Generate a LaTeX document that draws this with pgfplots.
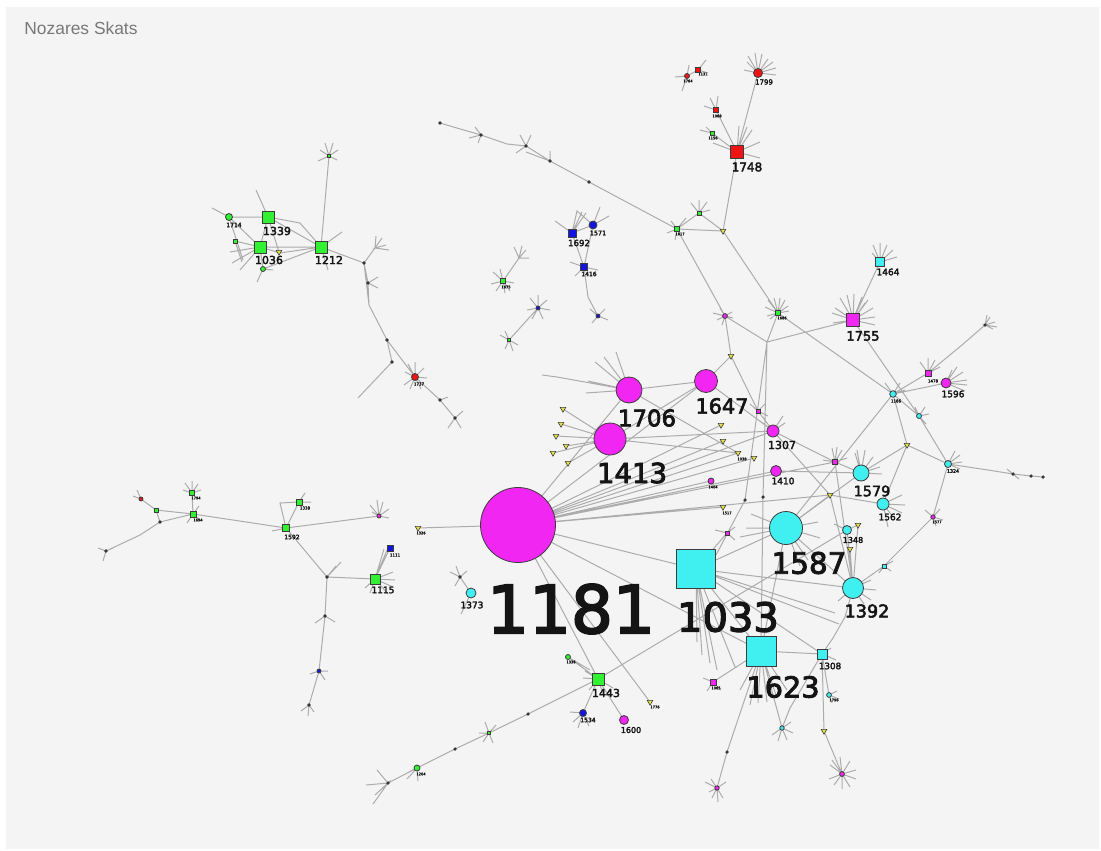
\documentclass[border=0pt]{standalone}
\usepackage{pgfplots}
\pgfplotsset{compat=1.18}
\usepackage{fontspec}
\setmainfont{DejaVu Sans}
\newfontfamily\lab{DejaVu Sans}[FakeBold=3]
\newfontfamily\titlefont{Liberation Sans}
\definecolor{mag}{RGB}{242,38,242}
\definecolor{cyn}{RGB}{64,240,240}
\definecolor{grn}{RGB}{50,240,50}
\definecolor{rd}{RGB}{238,20,20}
\definecolor{blu}{RGB}{20,20,225}
\definecolor{ylw}{RGB}{228,228,70}
\definecolor{edge}{RGB}{172,172,172}
\definecolor{nodeline}{RGB}{60,60,60}
\definecolor{panel}{RGB}{244,244,244}
\definecolor{titlegray}{RGB}{120,120,120}
\pgfdeclareplotmark{dtri*}{%
  \pgfpathmoveto{\pgfqpoint{0pt}{-\pgfplotmarksize}}%
  \pgfpathlineto{\pgfqpointpolar{30}{\pgfplotmarksize}}%
  \pgfpathlineto{\pgfqpointpolar{150}{\pgfplotmarksize}}%
  \pgfpathclose\pgfusepathqfillstroke}
\pgfplotsset{
  netnodes/.style n args={2}{scatter, only marks, mark=#1, point meta=\thisrow{s},
    scatter/use mapped color={draw=nodeline, fill=#2},
    visualization depends on={\thisrow{s}\as\ms},
    scatter/@pre marker code/.append style={/tikz/mark size=\ms, /tikz/line width=0.3pt}},
}
\tikzset{lbl/.style={inner sep=0pt, text={rgb,255:red,20;green,20;blue,20}}}
\begin{document}
\begin{tikzpicture}
\begin{axis}[scale only axis, width=550.5pt, height=425pt,
  xmin=0, xmax=1101, ymin=0, ymax=850, y dir=reverse,
  hide axis, clip=false]
\fill[white] (axis cs:0,0) rectangle (axis cs:1101,850);
\fill[panel] (axis cs:6,7) rectangle (axis cs:1099,849);
\node[anchor=west, inner sep=0pt, text=titlegray, font=\titlefont\fontsize{8.7}{10}\selectfont] at (axis cs:24,28) {Nozares Skats};

% ---------------- edges ----------------
\addplot[color=edge, line width=0.5pt, unbounded coords=jump, mark=none] table {
x y
518 525
629 390
518 525
706 381
518 525
721 425
518 525
723 441
518 525
738 453
518 525
754 458
518 525
773 431
518 525
835 462
518 525
723 507
518 525
418 528
518 525
696 569
518 525
761 651
518 525
598 679
518 525
650 702
518 525
711 481
518 525
776 471
518 525
830 495
nan nan
610 439
563 409
610 439
561 424
610 439
556 436
610 439
566 446
610 439
553 453
610 439
568 463
610 439
706 381
610 439
738 453
610 439
773 431
nan nan
629 390
706 381
nan nan
629 390
557 377
542 375
nan nan
629 390
588 381
629 390
586 393
629 390
595 362
629 390
604 357
629 390
616 352
629 390
738 453
nan nan
706 381
731 356
725 316
677 229
nan nan
706 381
773 431
nan nan
725 316
713 313
725 316
717 320
725 316
732 312
725 316
733 318
725 316
722 325
725 316
720 308
725 316
767 342
nan nan
731 356
758 411
773 431
nan nan
758 411
750 404
758 411
765 404
758 411
768 416
nan nan
723 231
778 313
893 394
nan nan
778 313
767 342
853 320
nan nan
767 342
763 497
761 651
nan nan
767 342
745 500
716 555
nan nan
778 313
765 307
778 313
768 300
778 313
774 298
778 313
780 298
778 313
785 300
778 313
788 306
778 313
789 311
778 313
767 316
778 313
770 319
nan nan
853 320
880 262
nan nan
853 320
835 308
853 320
840 298
853 320
847 295
853 320
854 294
853 320
862 297
853 320
868 300
853 320
873 308
853 320
875 317
853 320
875 325
853 320
832 313
853 320
833 323
853 320
865 303
nan nan
853 320
919 416
948 464
nan nan
880 262
873 245
880 262
880 243
880 262
887 245
880 262
893 250
880 262
897 257
880 262
872 253
nan nan
893 394
928 373
962 345
985 325
nan nan
985 325
987 315
985 325
990 317
985 325
995 322
985 325
997 327
985 325
993 329
nan nan
928 373
920 362
928 373
928 358
928 373
935 360
928 373
940 367
nan nan
893 394
946 383
nan nan
946 383
952 370
946 383
957 367
946 383
963 372
946 383
967 380
946 383
967 385
946 383
965 391
nan nan
893 394
786 528
nan nan
893 394
907 445
948 464
nan nan
907 445
861 473
nan nan
907 445
883 504
nan nan
893 394
919 416
nan nan
893 394
885 383
893 394
900 383
893 394
905 390
nan nan
919 416
915 407
919 416
925 407
919 416
929 414
919 416
926 424
nan nan
948 464
988 470
1013 474
1031 476
1043 477
nan nan
1013 474
1007 469
1013 474
1019 479
nan nan
948 464
955 451
948 464
960 455
948 464
962 462
948 464
960 469
nan nan
948 464
933 517
884 566
853 588
nan nan
933 517
925 510
933 517
940 509
933 517
943 520
933 517
936 526
nan nan
884 566
893 561
884 566
891 571
884 566
879 573
nan nan
773 431
835 462
861 473
nan nan
773 431
783 416
773 431
760 421
773 431
785 423
nan nan
773 431
830 495
nan nan
776 471
861 473
nan nan
835 462
832 448
835 462
837 447
835 462
842 450
835 462
847 458
835 462
823 460
nan nan
786 528
861 473
nan nan
786 528
761 651
nan nan
786 528
696 569
nan nan
786 528
853 588
nan nan
786 528
751 514
786 528
746 528
786 528
740 537
786 528
818 522
786 528
820 538
786 528
808 560
786 528
800 566
nan nan
786 528
830 495
883 504
nan nan
861 473
855 453
861 473
857 450
861 473
865 450
861 473
873 457
861 473
880 467
861 473
882 474
nan nan
883 504
902 495
883 504
905 505
883 504
902 513
883 504
893 517
883 504
888 527
nan nan
847 530
853 588
nan nan
858 525
853 588
nan nan
850 549
853 588
nan nan
830 495
853 588
nan nan
835 462
853 588
nan nan
847 530
834 524
847 530
858 525
nan nan
853 588
871 580
853 588
876 590
853 588
871 600
853 588
864 604
853 588
838 601
nan nan
853 588
845 617
833 638
822 654
nan nan
696 569
761 651
nan nan
696 569
853 588
nan nan
696 569
835 613
nan nan
696 569
839 624
nan nan
696 569
822 654
nan nan
696 569
697 642
696 569
702 655
696 569
710 663
696 569
717 670
696 569
735 667
nan nan
696 569
727 533
nan nan
727 533
715 530
727 533
735 527
727 533
735 540
nan nan
598 679
847 530
nan nan
761 651
822 654
nan nan
761 651
740 690
761 651
750 705
761 651
758 703
761 651
767 702
761 651
777 698
761 651
787 690
nan nan
761 651
713 682
nan nan
713 682
703 678
713 682
707 691
713 682
721 690
nan nan
761 651
727 752
717 788
nan nan
761 651
782 728
nan nan
782 728
772 735
782 728
778 741
782 728
787 740
782 728
793 733
782 728
791 722
nan nan
822 654
829 695
nan nan
822 654
824 731
842 774
nan nan
822 654
790 708
782 728
nan nan
822 654
831 648
822 654
836 660
nan nan
829 695
837 691
829 695
839 699
829 695
832 703
nan nan
842 774
830 765
842 774
832 760
842 774
840 757
842 774
850 761
842 774
856 770
842 774
856 779
842 774
850 787
842 774
842 789
842 774
834 785
842 774
829 779
nan nan
717 788
705 782
717 788
711 779
717 788
726 782
717 788
723 798
717 788
712 798
717 788
718 802
717 788
709 792
nan nan
598 679
568 657
nan nan
568 657
590 670
nan nan
598 679
583 713
nan nan
598 679
624 720
nan nan
598 679
528 714
489 733
455 749
417 768
388 783
nan nan
598 679
583 678
598 679
589 690
598 679
603 694
598 679
613 688
598 679
585 671
nan nan
583 713
570 712
583 713
573 722
583 713
578 728
583 713
589 726
nan nan
489 733
485 722
489 733
479 733
489 733
493 743
489 733
483 742
489 733
496 725
nan nan
417 768
409 772
417 768
407 779
417 768
418 781
nan nan
388 783
377 770
388 783
366 785
388 783
375 795
388 783
373 804
nan nan
440 123
450 126
481 135
507 144
526 146
550 161
589 182
677 229
nan nan
481 135
475 127
481 135
469 138
481 135
478 143
nan nan
526 146
520 135
526 146
531 135
526 146
516 153
nan nan
526 152
550 161
550 151
nan nan
677 229
699 213
723 231
677 229
nan nan
677 229
671 221
677 229
686 218
677 229
667 233
677 229
675 240
nan nan
699 213
699 200
699 213
707 202
699 213
691 203
699 213
710 210
nan nan
723 231
737 152
758 73
nan nan
737 152
739 126
737 152
752 130
737 152
760 142
737 152
760 158
737 152
713 143
737 152
716 110
737 152
712 133
737 152
747 127
nan nan
716 110
710 98
716 110
718 96
716 110
704 106
nan nan
712 133
700 130
712 133
706 127
nan nan
758 73
747 62
758 73
755 53
758 73
762 54
758 73
768 59
758 73
773 62
758 73
776 68
758 73
776 75
758 73
744 70
758 73
748 56
nan nan
687 76
698 70
nan nan
687 76
675 77
687 76
682 91
687 76
689 65
nan nan
698 70
706 60
698 70
708 73
nan nan
572 233
593 225
584 267
572 233
nan nan
572 233
555 221
572 233
577 211
593 225
nan nan
572 233
582 212
572 233
586 213
nan nan
593 225
600 207
593 225
609 216
nan nan
584 267
570 262
584 267
598 270
584 267
575 276
584 267
588 297
598 316
nan nan
598 316
590 309
598 316
605 309
598 316
608 320
598 316
592 323
nan nan
503 281
493 272
503 281
500 269
503 281
510 271
503 281
514 283
503 281
510 291
503 281
496 291
503 281
491 284
503 281
505 293
nan nan
503 281
519 258
nan nan
519 258
514 247
519 258
522 246
519 258
529 258
519 258
526 250
nan nan
538 308
530 298
538 308
538 295
538 308
547 300
538 308
550 310
538 308
543 319
538 308
532 319
538 308
527 310
nan nan
538 308
509 340
nan nan
509 340
500 335
509 340
505 331
509 340
518 345
509 340
505 349
509 340
513 351
nan nan
229 217
268 217
260 247
229 217
nan nan
229 217
212 208
nan nan
229 217
243 260
nan nan
268 217
321 247
nan nan
268 217
256 190
nan nan
268 217
300 223
321 247
nan nan
260 247
321 247
nan nan
260 247
235 241
242 262
nan nan
260 247
263 269
321 247
nan nan
260 247
280 253
321 247
nan nan
268 217
279 252
nan nan
260 247
230 252
260 247
232 263
260 247
240 270
nan nan
263 269
257 282
263 269
273 270
nan nan
321 247
342 232
nan nan
321 247
328 270
nan nan
321 247
329 156
nan nan
329 156
320 150
329 156
325 143
329 156
333 143
329 156
338 150
329 156
337 160
329 156
318 161
nan nan
321 247
364 263
375 248
nan nan
375 248
382 238
375 248
386 245
375 248
389 250
375 248
376 236
nan nan
364 263
368 283
369 305
387 340
415 377
nan nan
364 263
369 305
nan nan
368 283
378 277
368 283
378 288
nan nan
387 340
392 362
358 398
nan nan
415 377
405 372
415 377
408 364
415 377
415 362
415 377
424 368
415 377
427 378
415 377
421 389
415 377
410 389
415 377
404 385
nan nan
415 377
440 400
455 418
nan nan
455 418
463 411
455 418
461 428
455 418
448 428
nan nan
440 400
448 397
nan nan
286 528
280 503
299 502
nan nan
286 528
299 502
nan nan
299 502
305 493
299 502
311 502
nan nan
286 528
379 516
nan nan
379 516
370 505
379 516
377 500
379 516
383 502
379 516
389 509
379 516
389 518
379 516
372 512
nan nan
286 528
193 514
192 493
nan nan
192 493
185 483
192 493
192 481
192 493
198 484
192 493
201 490
192 493
183 490
nan nan
193 514
156 510
141 499
nan nan
141 499
133 496
141 499
137 490
nan nan
193 514
160 522
140 535
106 551
nan nan
156 510
160 522
nan nan
106 551
98 548
106 551
103 561
106 551
113 548
nan nan
193 514
199 506
193 514
201 521
193 514
187 523
nan nan
286 528
327 577
375 579
nan nan
375 579
390 548
nan nan
375 579
387 550
nan nan
375 579
384 549
nan nan
375 579
393 572
375 579
395 580
375 579
393 587
375 579
388 594
375 579
365 588
375 579
370 593
nan nan
327 577
336 566
327 577
341 562
nan nan
327 577
325 616
319 671
309 705
nan nan
325 616
315 623
325 616
335 622
nan nan
319 671
310 674
319 671
328 671
319 671
325 680
nan nan
309 705
301 711
309 705
308 716
309 705
314 712
nan nan
286 528
272 531
nan nan
471 593
460 577
nan nan
460 577
450 572
460 577
456 566
460 577
467 571
460 577
455 586
nan nan
471 593
461 614
nan nan
};

% ---------------- nodes ----------------
% magenta circles
\addplot[netnodes={*}{mag}] table {
x y s
518 525 18.75
610 439 8
629 390 6.5
706 381 5.75
773 431 3
776 471 2.75
946 383 2.5
624 720 2.25
711 481 1.5
725 316 1.2
933 517 1.1
842 774 1.2
717 788 1.1
379 516 1.0
};
% magenta squares
\addplot[netnodes={square*}{mag}] table {
x y s
853 320 3.25
928 373 1.5
713 682 1.5
758 411 1.0
835 462 1.2
727 533 1.0
};
% cyan circles
\addplot[netnodes={*}{cyn}] table {
x y s
786 528 8.25
861 473 4
883 504 3
847 530 2.25
853 588 5.25
893 394 1.65
919 416 1.25
948 464 1.75
471 593 2.5
829 695 1.2
782 728 1.1
};
% cyan squares
\addplot[netnodes={square*}{cyn}] table {
x y s
696 569 9.75
761 651 7.5
822 654 2.5
880 262 2.35
884 566 1.0
};
% green squares
\addplot[netnodes={square*}{grn}] table {
x y s
268 217 3
260 247 3
321 247 3
598 679 3
375 579 2.5
286 528 1.75
299 502 1.5
193 514 1.5
192 493 1.3
677 229 1.3
699 213 1.0
778 313 1.2
712 133 1.0
235 241 1.0
329 156 0.9
156 510 1.0
503 281 1.1
509 340 0.9
489 733 0.8
};
% green circles
\addplot[netnodes={*}{grn}] table {
x y s
229 217 1.75
263 269 1.25
568 657 1.25
417 768 1.5
};
% red squares
\addplot[netnodes={square*}{rd}] table {
x y s
737 152 3.25
716 110 1.25
698 70 1.1
};
% red circles
\addplot[netnodes={*}{rd}] table {
x y s
758 73 2.25
687 76 1.25
415 377 1.75
141 499 1.0
};
% blue squares
\addplot[netnodes={square*}{blu}] table {
x y s
572 233 2
584 267 1.65
390 548 1.5
};
% blue circles
\addplot[netnodes={*}{blu}] table {
x y s
593 225 2
583 713 1.75
538 308 1.0
598 316 1.0
319 671 1.0
};
% yellow triangles
\addplot[only marks, mark=dtri*, mark size=1.6pt, mark options={fill=ylw, draw=nodeline, line width=0.3pt}] table {
x y
721 425
723 441
738 453
754 458
731 356
907 445
830 495
858 525
850 549
723 507
418 528
650 702
824 731
723 231
563 409
561 424
556 436
566 446
553 453
568 463
279 252
};
% small black junction dots
\addplot[only marks, mark=*, mark size=0.6pt, mark options={fill=black!80, draw=black!80}] table {
x y
481 135
526 146
550 161
364 263
368 283
387 340
392 362
327 577
325 616
309 705
985 325
1013 474
1031 476
1043 477
388 783
455 418
460 577
440 400
106 551
160 522
440 123
589 182
745 500
763 497
727 752
528 714
455 749
};

% ---------------- labels ----------------
\node[lbl, font=\lab\fontsize{33}{33}\selectfont] at (axis cs:571,609) {1181};
\node[lbl, font=\lab\fontsize{20}{20}\selectfont] at (axis cs:728,617) {1033};
\node[lbl, font=\lab\fontsize{14.4}{14.4}\selectfont] at (axis cs:783,687) {1623};
\node[lbl, font=\lab\fontsize{14.7}{14.7}\selectfont] at (axis cs:809,563) {1587};
\node[lbl, font=\lab\fontsize{13.8}{13.8}\selectfont] at (axis cs:632,473) {1413};
\node[lbl, font=\lab\fontsize{11.4}{11.4}\selectfont] at (axis cs:647,418) {1706};
\node[lbl, font=\lab\fontsize{10.4}{10.4}\selectfont] at (axis cs:722,406) {1647};
\node[lbl, font=\lab\fontsize{8.8}{8.8}\selectfont] at (axis cs:867,611) {1392};
\node[lbl, font=\lab\fontsize{7.2}{7.2}\selectfont] at (axis cs:872,491) {1579};
\node[lbl, font=\lab\fontsize{6.5}{6.5}\selectfont] at (axis cs:863,336) {1755};
\node[lbl, font=\lab\fontsize{6}{6}\selectfont] at (axis cs:747,167) {1748};
\node[lbl, font=\lab\fontsize{5.5}{5.5}\selectfont] at (axis cs:782,445) {1307};
\node[lbl, font=\lab\fontsize{5.5}{5.5}\selectfont] at (axis cs:277,231) {1339};
\node[lbl, font=\lab\fontsize{5.5}{5.5}\selectfont] at (axis cs:269,260) {1036};
\node[lbl, font=\lab\fontsize{5.5}{5.5}\selectfont] at (axis cs:329,260) {1212};
\node[lbl, font=\lab\fontsize{5.5}{5.5}\selectfont] at (axis cs:606,693) {1443};
\node[lbl, font=\lab\fontsize{4.5}{4.5}\selectfont] at (axis cs:890,517) {1562};
\node[lbl, font=\lab\fontsize{4.5}{4.5}\selectfont] at (axis cs:783,481) {1410};
\node[lbl, font=\lab\fontsize{4.5}{4.5}\selectfont] at (axis cs:888,272) {1464};
\node[lbl, font=\lab\fontsize{4.5}{4.5}\selectfont] at (axis cs:953,394) {1596};
\node[lbl, font=\lab\fontsize{4.4}{4.4}\selectfont] at (axis cs:830,666) {1308};
\node[lbl, font=\lab\fontsize{4.5}{4.5}\selectfont] at (axis cs:472,605) {1373};
\node[lbl, font=\lab\fontsize{4.5}{4.5}\selectfont] at (axis cs:383,590) {1115};
\node[lbl, font=\lab\fontsize{4.3}{4.3}\selectfont] at (axis cs:579,243) {1692};
\node[lbl, font=\lab\fontsize{4}{4}\selectfont] at (axis cs:853,540) {1348};
\node[lbl, font=\lab\fontsize{4}{4}\selectfont] at (axis cs:631,730) {1600};
\node[lbl, font=\lab\fontsize{3.5}{3.5}\selectfont] at (axis cs:764,82) {1799};
\node[lbl, font=\lab\fontsize{3.2}{3.2}\selectfont] at (axis cs:598,233) {1571};
\node[lbl, font=\lab\fontsize{3}{3}\selectfont] at (axis cs:589,274) {1416};
\node[lbl, font=\lab\fontsize{3}{3}\selectfont] at (axis cs:588,720) {1534};
\node[lbl, font=\lab\fontsize{3}{3}\selectfont] at (axis cs:292,537) {1592};
\node[lbl, font=\lab\fontsize{3}{3}\selectfont] at (axis cs:234,225) {1714};
\node[lbl, font=\lab\fontsize{2}{2}\selectfont] at (axis cs:933,381) {1478};
\node[lbl, font=\lab\fontsize{2}{2}\selectfont] at (axis cs:896,401) {1186};
\node[lbl, font=\lab\fontsize{2.4}{2.4}\selectfont] at (axis cs:953,471) {1324};
\node[lbl, font=\lab\fontsize{1.8}{1.8}\selectfont] at (axis cs:937,522) {1577};
\node[lbl, font=\lab\fontsize{2}{2}\selectfont] at (axis cs:395,555) {1111};
\node[lbl, font=\lab\fontsize{2}{2}\selectfont] at (axis cs:305,508) {1338};
\node[lbl, font=\lab\fontsize{1.8}{1.8}\selectfont] at (axis cs:198,520) {1694};
\node[lbl, font=\lab\fontsize{1.8}{1.8}\selectfont] at (axis cs:196,498) {1794};
\node[lbl, font=\lab\fontsize{1.8}{1.8}\selectfont] at (axis cs:421,774) {1204};
\node[lbl, font=\lab\fontsize{1.8}{1.8}\selectfont] at (axis cs:571,662) {1336};
\node[lbl, font=\lab\fontsize{1.8}{1.8}\selectfont] at (axis cs:655,707) {1776};
\node[lbl, font=\lab\fontsize{1.8}{1.8}\selectfont] at (axis cs:716,688) {1065};
\node[lbl, font=\lab\fontsize{1.8}{1.8}\selectfont] at (axis cs:834,700) {1796};
\node[lbl, font=\lab\fontsize{1.8}{1.8}\selectfont] at (axis cs:727,513) {1517};
\node[lbl, font=\lab\fontsize{1.8}{1.8}\selectfont] at (axis cs:421,533) {1326};
\node[lbl, font=\lab\fontsize{1.8}{1.8}\selectfont] at (axis cs:713,487) {1404};
\node[lbl, font=\lab\fontsize{1.8}{1.8}\selectfont] at (axis cs:717,116) {1068};
\node[lbl, font=\lab\fontsize{1.8}{1.8}\selectfont] at (axis cs:688,81) {1764};
\node[lbl, font=\lab\fontsize{1.8}{1.8}\selectfont] at (axis cs:703,74) {1131};
\node[lbl, font=\lab\fontsize{2}{2}\selectfont] at (axis cs:419,384) {1737};
\node[lbl, font=\lab\fontsize{1.8}{1.8}\selectfont] at (axis cs:506,287) {1675};
\node[lbl, font=\lab\fontsize{1.8}{1.8}\selectfont] at (axis cs:782,318) {1686};
\node[lbl, font=\lab\fontsize{1.8}{1.8}\selectfont] at (axis cs:742,459) {1038};
\node[lbl, font=\lab\fontsize{1.8}{1.8}\selectfont] at (axis cs:713,138) {1156};
\node[lbl, font=\lab\fontsize{1.8}{1.8}\selectfont] at (axis cs:680,234) {1617};
\end{axis}
\end{tikzpicture}
\end{document}
